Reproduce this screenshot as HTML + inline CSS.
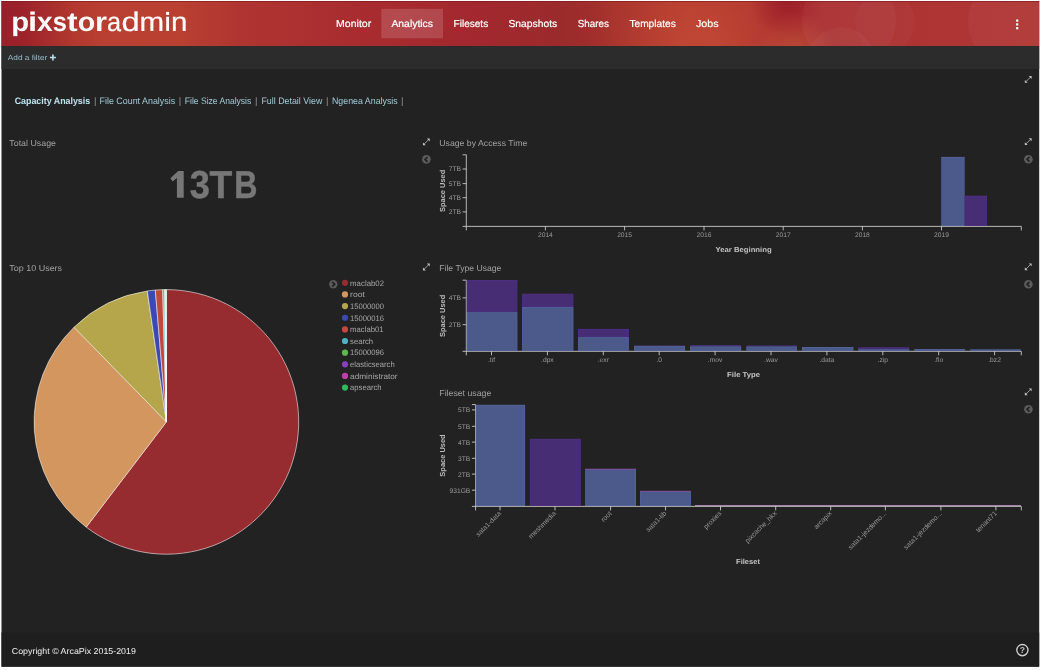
<!DOCTYPE html>
<html><head><meta charset="utf-8"><title>pixstor admin</title>
<style>
html,body{margin:0;padding:0;background:#fff;overflow:hidden;}
svg{display:block;font-family:"Liberation Sans", sans-serif;will-change:transform;opacity:0.999;text-rendering:geometricPrecision;}
</style></head><body>
<svg width="1041" height="670" viewBox="0 0 1041 670">
<defs>
<linearGradient id="hg" gradientUnits="userSpaceOnUse" x1="0" y1="0" x2="1041" y2="0">
<stop offset="0" stop-color="#98202a"/>
<stop offset="0.02" stop-color="#9b2229"/>
<stop offset="0.045" stop-color="#a62c2d"/>
<stop offset="0.075" stop-color="#b43a30"/>
<stop offset="0.10" stop-color="#b83e31"/>
<stop offset="0.17" stop-color="#b94031"/>
<stop offset="0.23" stop-color="#b03531"/>
<stop offset="0.33" stop-color="#a92d2f"/>
<stop offset="0.45" stop-color="#a3282f"/>
<stop offset="0.535" stop-color="#9b2a2c"/>
<stop offset="0.565" stop-color="#9f2d2c"/>
<stop offset="0.59" stop-color="#a9352e"/>
<stop offset="0.66" stop-color="#b83f31"/>
<stop offset="0.72" stop-color="#b43931"/>
<stop offset="0.765" stop-color="#aa2e30"/>
<stop offset="0.82" stop-color="#ac3133"/>
<stop offset="0.88" stop-color="#ae3434"/>
<stop offset="1" stop-color="#b03836"/>
</linearGradient>
<radialGradient id="g1" gradientUnits="userSpaceOnUse" cx="700" cy="52" r="85">
<stop offset="0" stop-color="#c44a35" stop-opacity="0.75"/>
<stop offset="1" stop-color="#c44a35" stop-opacity="0"/>
</radialGradient>
<radialGradient id="g2" gradientUnits="userSpaceOnUse" cx="787" cy="2" r="36">
<stop offset="0" stop-color="#9c1e28" stop-opacity="0.9"/>
<stop offset="1" stop-color="#9c1e28" stop-opacity="0"/>
</radialGradient>
<radialGradient id="g3" gradientUnits="userSpaceOnUse" cx="795" cy="54" r="42">
<stop offset="0" stop-color="#cc6a3c" stop-opacity="0.5"/>
<stop offset="1" stop-color="#c8603a" stop-opacity="0"/>
</radialGradient>
<clipPath id="hc"><rect x="1.5" y="1.1" width="1037.7" height="44.9"/></clipPath>
</defs>
<rect x="0" y="0" width="1041" height="670" fill="#ffffff"/>
<rect x="1.5" y="1.1" width="1037.7" height="665.6" fill="#222222"/>
<rect x="1.5" y="1.1" width="1037.7" height="44.9" fill="url(#hg)"/>
<g clip-path="url(#hc)">
<rect x="560" y="0" width="340" height="50" fill="url(#g1)"/>
<rect x="730" y="0" width="110" height="50" fill="url(#g2)"/>
<rect x="740" y="0" width="110" height="50" fill="url(#g3)"/>
<circle cx="140" cy="28" r="48" fill="#c8503a" opacity="0.10"/>
<circle cx="849" cy="20" r="47" fill="#ffffff" opacity="0.035"/>
<circle cx="841" cy="60" r="33" fill="#ffffff" opacity="0.035"/>
<circle cx="885" cy="22" r="30" fill="#ffffff" opacity="0.025"/>
<circle cx="1014" cy="22" r="46" fill="#ffffff" opacity="0.03"/>
</g>
<rect x="1.5" y="1.1" width="1037.7" height="0.8" fill="#851a1e" opacity="0.85"/>
<rect x="1.5" y="46.0" width="1037.7" height="23.0" fill="#2c2c2c"/>
<rect x="1.5" y="632.5" width="1037.7" height="34.200000000000045" fill="#1e1e1e"/>
<clipPath id="pc"><rect x="0" y="0" width="200" height="36.3"/></clipPath>
<g clip-path="url(#pc)"><text transform="translate(11.18,30.95) scale(1.0272,0.95)" font-size="28.4" fill="#ffffff" font-weight="bold">p</text></g>
<rect x="30.3" y="16.3" width="4.5" height="14.65" fill="#fff"/><rect x="30.3" y="11.5" width="4.5" height="3.2" fill="#fff"/>
<g><text transform="translate(36.91,30.95) scale(0.9875,0.95)" font-size="28.4" fill="#ffffff" font-weight="bold">x</text></g>
<g><text transform="translate(52.81,30.95) scale(0.8951,0.95)" font-size="28.4" fill="#ffffff" font-weight="bold">s</text></g>
<g><text transform="translate(66.91,30.95) scale(1.1182,0.95)" font-size="28.4" fill="#ffffff" font-weight="bold">t</text></g>
<g><text transform="translate(77.68,30.95) scale(1.0113,0.95)" font-size="28.4" fill="#ffffff" font-weight="bold">o</text></g>
<g><text transform="translate(94.97,30.95) scale(1.0857,0.95)" font-size="28.4" fill="#ffffff" font-weight="bold">r</text></g>
<text transform="translate(107.12,30.9) scale(0.8911,0.95)" font-size="28.4" fill="#ffffff" stroke="#ffffff" stroke-width="0.2">a</text>
<text transform="translate(121.53,30.9) scale(1.1510,0.95)" font-size="28.4" fill="#ffffff" stroke="#ffffff" stroke-width="0.2">d</text>
<text transform="translate(139.54,30.9) scale(1.0402,0.95)" font-size="28.4" fill="#ffffff" stroke="#ffffff" stroke-width="0.2">m</text>
<rect x="166.2" y="16.7" width="2.8" height="14.2" fill="#fff"/><rect x="166.1" y="11.9" width="3.0" height="3.0" fill="#fff"/>
<text transform="translate(171.09,30.9) scale(1.0403,0.95)" font-size="28.4" fill="#ffffff" stroke="#ffffff" stroke-width="0.2">n</text>
<rect x="381.3" y="8.9" width="61.7" height="29.4" fill="#ffffff" opacity="0.15"/>
<text x="336.1" y="27.4" font-size="10.1" fill="#ffffff" textLength="35.1" lengthAdjust="spacingAndGlyphs" stroke="#ffffff" stroke-width="0.2">Monitor</text>
<text x="391.4" y="27.4" font-size="10.1" fill="#ffffff" textLength="41.6" lengthAdjust="spacingAndGlyphs" stroke="#ffffff" stroke-width="0.2">Analytics</text>
<text x="453.5" y="27.4" font-size="10.1" fill="#ffffff" textLength="34.7" lengthAdjust="spacingAndGlyphs" stroke="#ffffff" stroke-width="0.2">Filesets</text>
<text x="508.4" y="27.4" font-size="10.1" fill="#ffffff" textLength="48.8" lengthAdjust="spacingAndGlyphs" stroke="#ffffff" stroke-width="0.2">Snapshots</text>
<text x="577.8" y="27.4" font-size="10.1" fill="#ffffff" textLength="31.0" lengthAdjust="spacingAndGlyphs" stroke="#ffffff" stroke-width="0.2">Shares</text>
<text x="629.4" y="27.4" font-size="10.1" fill="#ffffff" textLength="46.4" lengthAdjust="spacingAndGlyphs" stroke="#ffffff" stroke-width="0.2">Templates</text>
<text x="696.0" y="27.4" font-size="10.1" fill="#ffffff" textLength="22.6" lengthAdjust="spacingAndGlyphs" stroke="#ffffff" stroke-width="0.2">Jobs</text>
<rect x="1016.1" y="19.5" width="2.2" height="2.2" fill="#ffffff"/>
<rect x="1016.1" y="23.299999999999997" width="2.2" height="2.2" fill="#ffffff"/>
<rect x="1016.1" y="27.099999999999998" width="2.2" height="2.2" fill="#ffffff"/>
<text x="7.8" y="60.1" font-size="7.3" fill="#98bfcb" textLength="39.5" lengthAdjust="spacingAndGlyphs">Add a filter</text>
<path d="M49.9 57.5H55.9M52.9 54.5V60.5" stroke="#b9e2ef" stroke-width="1.6" fill="none"/>
<text x="14.7" y="104.0" font-size="9.4" fill="#bfe3ef" font-weight="bold" textLength="75.5" lengthAdjust="spacingAndGlyphs">Capacity Analysis</text>
<text x="99.6" y="104.0" font-size="9.4" fill="#a1cad7" textLength="75.5" lengthAdjust="spacingAndGlyphs">File Count Analysis</text>
<text x="184.8" y="104.0" font-size="9.4" fill="#a1cad7" textLength="66.5" lengthAdjust="spacingAndGlyphs">File Size Analysis</text>
<text x="261.4" y="104.0" font-size="9.4" fill="#a1cad7" textLength="60.9" lengthAdjust="spacingAndGlyphs">Full Detail View</text>
<text x="332.0" y="104.0" font-size="9.4" fill="#a1cad7" textLength="65.7" lengthAdjust="spacingAndGlyphs">Ngenea Analysis</text>
<text x="95.2" y="104.0" font-size="9.4" fill="#9a9a9a" text-anchor="middle">|</text>
<text x="180.0" y="104.0" font-size="9.4" fill="#9a9a9a" text-anchor="middle">|</text>
<text x="256.2" y="104.0" font-size="9.4" fill="#9a9a9a" text-anchor="middle">|</text>
<text x="327.2" y="104.0" font-size="9.4" fill="#9a9a9a" text-anchor="middle">|</text>
<text x="402.2" y="104.0" font-size="9.4" fill="#9a9a9a" text-anchor="middle">|</text>
<text x="11.8" y="653.7" font-size="8.6" fill="#f0f0f0" textLength="124.1" lengthAdjust="spacingAndGlyphs">Copyright © ArcaPix 2015-2019</text>
<text x="9.3" y="145.9" font-size="8.6" fill="#a0a0a0" textLength="46.7" lengthAdjust="spacingAndGlyphs">Total Usage</text>
<text x="9.3" y="271.0" font-size="8.6" fill="#a0a0a0" textLength="52.8" lengthAdjust="spacingAndGlyphs">Top 10 Users</text>
<text x="439.3" y="145.9" font-size="8.6" fill="#a0a0a0" textLength="88.0" lengthAdjust="spacingAndGlyphs">Usage by Access Time</text>
<text x="439.3" y="271.0" font-size="8.6" fill="#a0a0a0" textLength="62.0" lengthAdjust="spacingAndGlyphs">File Type Usage</text>
<text x="439.3" y="395.7" font-size="8.6" fill="#a0a0a0" textLength="52.0" lengthAdjust="spacingAndGlyphs">Fileset usage</text>
<path d="M176.9 197.8V177.9L172.6 181.4L170.4 178.3L178.2 171.0H183.7V197.8Z" fill="#777777"/>
<text transform="translate(189.77,197.8) scale(0.9285,1)" font-size="39.0" fill="#777777" stroke="#777777" stroke-width="0.5" font-weight="bold">3</text>
<text transform="translate(209.48,197.8) scale(0.9535,1)" font-size="39.0" fill="#777777" stroke="#777777" stroke-width="0.5" font-weight="bold">T</text>
<text transform="translate(234.25,197.8) scale(0.8240,1)" font-size="39.0" fill="#777777" stroke="#777777" stroke-width="0.5" font-weight="bold">B</text>
<g transform="translate(1028.2,79.4)" fill="#c2c2c2" stroke="none"><path d="M3.4 -3.4L0.5 -3.4L3.4 -0.5Z"/><path d="M-3.4 3.4L-0.5 3.4L-3.4 0.5Z"/><path d="M-2.4 2.4L2.4 -2.4" stroke="#c2c2c2" stroke-width="0.95" stroke-opacity="0.8"/></g>
<g transform="translate(1028.2,141.7)" fill="#c2c2c2" stroke="none"><path d="M3.4 -3.4L0.5 -3.4L3.4 -0.5Z"/><path d="M-3.4 3.4L-0.5 3.4L-3.4 0.5Z"/><path d="M-2.4 2.4L2.4 -2.4" stroke="#c2c2c2" stroke-width="0.95" stroke-opacity="0.8"/></g>
<g transform="translate(1028.2,266.8)" fill="#c2c2c2" stroke="none"><path d="M3.4 -3.4L0.5 -3.4L3.4 -0.5Z"/><path d="M-3.4 3.4L-0.5 3.4L-3.4 0.5Z"/><path d="M-2.4 2.4L2.4 -2.4" stroke="#c2c2c2" stroke-width="0.95" stroke-opacity="0.8"/></g>
<g transform="translate(1028.2,391.8)" fill="#c2c2c2" stroke="none"><path d="M3.4 -3.4L0.5 -3.4L3.4 -0.5Z"/><path d="M-3.4 3.4L-0.5 3.4L-3.4 0.5Z"/><path d="M-2.4 2.4L2.4 -2.4" stroke="#c2c2c2" stroke-width="0.95" stroke-opacity="0.8"/></g>
<g transform="translate(426.35,141.89999999999998)" fill="#c2c2c2" stroke="none"><path d="M3.4 -3.4L0.5 -3.4L3.4 -0.5Z"/><path d="M-3.4 3.4L-0.5 3.4L-3.4 0.5Z"/><path d="M-2.4 2.4L2.4 -2.4" stroke="#c2c2c2" stroke-width="0.95" stroke-opacity="0.8"/></g>
<g transform="translate(426.35,267.0)" fill="#c2c2c2" stroke="none"><path d="M3.4 -3.4L0.5 -3.4L3.4 -0.5Z"/><path d="M-3.4 3.4L-0.5 3.4L-3.4 0.5Z"/><path d="M-2.4 2.4L2.4 -2.4" stroke="#c2c2c2" stroke-width="0.95" stroke-opacity="0.8"/></g>
<circle cx="426.4" cy="159.4" r="4.3" fill="#5c5c5c"/>
<path d="M427.5 157.0L425.0 159.4L427.5 161.8" stroke="#222222" stroke-width="1.65" fill="none"/>
<circle cx="1028.4" cy="159.3" r="4.3" fill="#5c5c5c"/>
<path d="M1029.5 156.9L1027.0 159.3L1029.5 161.70000000000002" stroke="#222222" stroke-width="1.65" fill="none"/>
<circle cx="1028.4" cy="284.3" r="4.3" fill="#5c5c5c"/>
<path d="M1029.5 281.90000000000003L1027.0 284.3L1029.5 286.7" stroke="#222222" stroke-width="1.65" fill="none"/>
<circle cx="1028.4" cy="409.3" r="4.3" fill="#5c5c5c"/>
<path d="M1029.5 406.90000000000003L1027.0 409.3L1029.5 411.7" stroke="#222222" stroke-width="1.65" fill="none"/>
<circle cx="333.3" cy="284.2" r="4.15" fill="#5c5c5c"/>
<path d="M332.2 281.8L334.7 284.2L332.2 286.59999999999997" stroke="#222222" stroke-width="1.65" fill="none"/>
<circle cx="1022.4" cy="650.1" r="5.6" fill="none" stroke="#d2d2d2" stroke-width="1.35"/>
<text x="1022.4" y="653.3" font-size="8.6" fill="#c0c0c0" text-anchor="middle" font-weight="bold">?</text>
<path d="M462.6 154.8H466.3V226.4H462.6" stroke="#dddddd" stroke-width="0.8" fill="none"/>
<path d="M466.3 230.4V226.4H1021.3V230.4" stroke="#dddddd" stroke-width="0.8" fill="none"/>
<path d="M462.6 169.0H466.3" stroke="#dddddd" stroke-width="0.8"/>
<text x="461.0" y="171.4" font-size="6.7" fill="#9a9a9a" text-anchor="end">7TB</text>
<path d="M462.6 183.6H466.3" stroke="#dddddd" stroke-width="0.8"/>
<text x="461.0" y="186.0" font-size="6.7" fill="#9a9a9a" text-anchor="end">5TB</text>
<path d="M462.6 197.7H466.3" stroke="#dddddd" stroke-width="0.8"/>
<text x="461.0" y="200.1" font-size="6.7" fill="#9a9a9a" text-anchor="end">4TB</text>
<path d="M462.6 211.9H466.3" stroke="#dddddd" stroke-width="0.8"/>
<text x="461.0" y="214.3" font-size="6.7" fill="#9a9a9a" text-anchor="end">2TB</text>
<path d="M545.4 226.4V230.4" stroke="#dddddd" stroke-width="0.8"/>
<path d="M624.6 226.4V230.4" stroke="#dddddd" stroke-width="0.8"/>
<path d="M704.0 226.4V230.4" stroke="#dddddd" stroke-width="0.8"/>
<path d="M783.2 226.4V230.4" stroke="#dddddd" stroke-width="0.8"/>
<path d="M862.4 226.4V230.4" stroke="#dddddd" stroke-width="0.8"/>
<path d="M941.5 226.4V230.4" stroke="#dddddd" stroke-width="0.8"/>
<text x="545.4" y="237.4" font-size="6.7" fill="#9a9a9a" text-anchor="middle">2014</text>
<text x="624.6" y="237.4" font-size="6.7" fill="#9a9a9a" text-anchor="middle">2015</text>
<text x="704.0" y="237.4" font-size="6.7" fill="#9a9a9a" text-anchor="middle">2016</text>
<text x="783.2" y="237.4" font-size="6.7" fill="#9a9a9a" text-anchor="middle">2017</text>
<text x="862.4" y="237.4" font-size="6.7" fill="#9a9a9a" text-anchor="middle">2018</text>
<text x="941.5" y="237.4" font-size="6.7" fill="#9a9a9a" text-anchor="middle">2019</text>
<rect x="941.3" y="156.9" width="23.3" height="69.1" fill="#5669a6"/>
<rect x="941.8499999999999" y="157.45000000000002" width="22.2" height="68.0" fill="#4c5a8b"/>
<rect x="964.6" y="195.7" width="22.4" height="30.3" fill="#50318c"/>
<rect x="965.15" y="196.25" width="21.3" height="29.2" fill="#472d74"/>
<text transform="translate(445.4,190.9) rotate(-90)" text-anchor="middle" font-size="7.3" font-weight="bold" fill="#bcbcbc" textLength="42.3" lengthAdjust="spacingAndGlyphs">Space Used</text>
<text x="743.6" y="251.6" font-size="7.3" fill="#c4c4c4" text-anchor="middle" font-weight="bold" textLength="56.0" lengthAdjust="spacingAndGlyphs">Year Beginning</text>
<path d="M462.6 280.2H466.3V351.3H462.6" stroke="#dddddd" stroke-width="0.8" fill="none"/>
<path d="M466.3 355.3V351.3H1021.3V355.3" stroke="#dddddd" stroke-width="0.8" fill="none"/>
<path d="M462.6 297.9H466.3" stroke="#dddddd" stroke-width="0.8"/>
<text x="461.0" y="300.3" font-size="6.7" fill="#9a9a9a" text-anchor="end">4TB</text>
<path d="M462.6 324.7H466.3" stroke="#dddddd" stroke-width="0.8"/>
<text x="461.0" y="327.1" font-size="6.7" fill="#9a9a9a" text-anchor="end">2TB</text>
<path d="M491.5 351.3V355.3" stroke="#dddddd" stroke-width="0.8"/>
<path d="M547.4 351.3V355.3" stroke="#dddddd" stroke-width="0.8"/>
<path d="M603.3 351.3V355.3" stroke="#dddddd" stroke-width="0.8"/>
<path d="M659.2 351.3V355.3" stroke="#dddddd" stroke-width="0.8"/>
<path d="M715.1 351.3V355.3" stroke="#dddddd" stroke-width="0.8"/>
<path d="M771.0 351.3V355.3" stroke="#dddddd" stroke-width="0.8"/>
<path d="M826.9 351.3V355.3" stroke="#dddddd" stroke-width="0.8"/>
<path d="M882.8 351.3V355.3" stroke="#dddddd" stroke-width="0.8"/>
<path d="M938.7 351.3V355.3" stroke="#dddddd" stroke-width="0.8"/>
<path d="M994.5999999999999 351.3V355.3" stroke="#dddddd" stroke-width="0.8"/>
<text x="491.5" y="362.3" font-size="6.7" fill="#9a9a9a" text-anchor="middle">.tif</text>
<text x="547.4" y="362.3" font-size="6.7" fill="#9a9a9a" text-anchor="middle">.dpx</text>
<text x="603.3" y="362.3" font-size="6.7" fill="#9a9a9a" text-anchor="middle">.exr</text>
<text x="659.2" y="362.3" font-size="6.7" fill="#9a9a9a" text-anchor="middle">.0</text>
<text x="715.1" y="362.3" font-size="6.7" fill="#9a9a9a" text-anchor="middle">.mov</text>
<text x="771.0" y="362.3" font-size="6.7" fill="#9a9a9a" text-anchor="middle">.wav</text>
<text x="826.9" y="362.3" font-size="6.7" fill="#9a9a9a" text-anchor="middle">.data</text>
<text x="882.8" y="362.3" font-size="6.7" fill="#9a9a9a" text-anchor="middle">.zip</text>
<text x="938.7" y="362.3" font-size="6.7" fill="#9a9a9a" text-anchor="middle">.flo</text>
<text x="994.6" y="362.3" font-size="6.7" fill="#9a9a9a" text-anchor="middle">.bz2</text>
<rect x="466.8" y="280.0" width="50.6" height="32.2" fill="#50318c"/>
<rect x="467.35" y="280.55" width="49.5" height="31.1" fill="#472d74"/>
<rect x="466.8" y="312.2" width="50.6" height="38.7" fill="#5669a6"/>
<rect x="467.35" y="312.75" width="49.5" height="37.6" fill="#4c5a8b"/>
<rect x="522.1" y="293.7" width="51.3" height="13.4" fill="#50318c"/>
<rect x="522.65" y="294.25" width="50.2" height="12.3" fill="#472d74"/>
<rect x="522.1" y="307.1" width="51.3" height="43.8" fill="#5669a6"/>
<rect x="522.65" y="307.65000000000003" width="50.2" height="42.7" fill="#4c5a8b"/>
<rect x="578.1" y="328.9" width="50.7" height="8.3" fill="#50318c"/>
<rect x="578.65" y="329.45" width="49.6" height="7.2" fill="#472d74"/>
<rect x="578.1" y="337.2" width="50.7" height="13.7" fill="#5669a6"/>
<rect x="578.65" y="337.75" width="49.6" height="12.6" fill="#4c5a8b"/>
<rect x="634.1" y="345.6" width="50.9" height="0.3" fill="#50318c"/>
<rect x="634.1" y="345.9" width="50.9" height="5.0" fill="#5669a6"/>
<rect x="634.65" y="346.45" width="49.8" height="3.9" fill="#4c5a8b"/>
<rect x="690.1" y="345.2" width="51.1" height="1.2" fill="#50318c"/>
<rect x="690.1" y="346.4" width="51.1" height="4.5" fill="#5669a6"/>
<rect x="690.65" y="346.95" width="50.0" height="3.4" fill="#4c5a8b"/>
<rect x="746.4" y="345.5" width="50.5" height="1.0" fill="#50318c"/>
<rect x="746.4" y="346.5" width="50.5" height="4.4" fill="#5669a6"/>
<rect x="746.9499999999999" y="347.05" width="49.4" height="3.3" fill="#4c5a8b"/>
<rect x="802.0" y="347.0" width="51.4" height="3.9" fill="#5669a6"/>
<rect x="802.55" y="347.55" width="50.3" height="2.8" fill="#4c5a8b"/>
<rect x="858.2" y="347.3" width="51.1" height="2.0" fill="#50318c"/>
<rect x="858.75" y="347.85" width="50.0" height="0.9" fill="#472d74"/>
<rect x="858.2" y="349.3" width="51.1" height="1.6" fill="#5669a6"/>
<rect x="858.75" y="349.85" width="50.0" height="0.5" fill="#4c5a8b"/>
<rect x="914.3" y="349.1" width="50.8" height="1.8" fill="#5669a6"/>
<rect x="914.8499999999999" y="349.65000000000003" width="49.7" height="0.7" fill="#4c5a8b"/>
<rect x="970.2" y="349.4" width="50.5" height="1.5" fill="#5669a6"/>
<rect x="970.75" y="349.95" width="49.4" height="0.4" fill="#4c5a8b"/>
<text transform="translate(445.4,315.9) rotate(-90)" text-anchor="middle" font-size="7.3" font-weight="bold" fill="#bcbcbc" textLength="42.3" lengthAdjust="spacingAndGlyphs">Space Used</text>
<text x="743.6" y="376.6" font-size="7.3" fill="#c4c4c4" text-anchor="middle" font-weight="bold" textLength="33.0" lengthAdjust="spacingAndGlyphs">File Type</text>
<path d="M471.90000000000003 404.6H475.6V506.4H471.90000000000003" stroke="#dddddd" stroke-width="0.8" fill="none"/>
<path d="M475.6 510.4V506.4H1021.3V510.4" stroke="#dddddd" stroke-width="0.8" fill="none"/>
<path d="M471.90000000000003 409.9H475.6" stroke="#dddddd" stroke-width="0.8"/>
<text x="470.3" y="412.3" font-size="6.7" fill="#9a9a9a" text-anchor="end">5TB</text>
<path d="M471.90000000000003 426.3H475.6" stroke="#dddddd" stroke-width="0.8"/>
<text x="470.3" y="428.7" font-size="6.7" fill="#9a9a9a" text-anchor="end">5TB</text>
<path d="M471.90000000000003 442.1H475.6" stroke="#dddddd" stroke-width="0.8"/>
<text x="470.3" y="444.5" font-size="6.7" fill="#9a9a9a" text-anchor="end">4TB</text>
<path d="M471.90000000000003 458.3H475.6" stroke="#dddddd" stroke-width="0.8"/>
<text x="470.3" y="460.7" font-size="6.7" fill="#9a9a9a" text-anchor="end">3TB</text>
<path d="M471.90000000000003 474.1H475.6" stroke="#dddddd" stroke-width="0.8"/>
<text x="470.3" y="476.5" font-size="6.7" fill="#9a9a9a" text-anchor="end">2TB</text>
<path d="M471.90000000000003 490.2H475.6" stroke="#dddddd" stroke-width="0.8"/>
<text x="470.3" y="492.6" font-size="6.7" fill="#9a9a9a" text-anchor="end">931GB</text>
<path d="M500.0 506.4V510.4" stroke="#dddddd" stroke-width="0.8"/>
<path d="M555.0 506.4V510.4" stroke="#dddddd" stroke-width="0.8"/>
<path d="M610.6 506.4V510.4" stroke="#dddddd" stroke-width="0.8"/>
<path d="M665.5 506.4V510.4" stroke="#dddddd" stroke-width="0.8"/>
<path d="M720.5 506.4V510.4" stroke="#dddddd" stroke-width="0.8"/>
<path d="M775.7 506.4V510.4" stroke="#dddddd" stroke-width="0.8"/>
<path d="M830.7 506.4V510.4" stroke="#dddddd" stroke-width="0.8"/>
<path d="M885.4 506.4V510.4" stroke="#dddddd" stroke-width="0.8"/>
<path d="M940.9 506.4V510.4" stroke="#dddddd" stroke-width="0.8"/>
<path d="M995.9 506.4V510.4" stroke="#dddddd" stroke-width="0.8"/>
<rect x="475.8" y="404.8" width="49.3" height="101.2" fill="#5669a6"/>
<rect x="476.35" y="405.35" width="48.2" height="100.1" fill="#4c5a8b"/>
<rect x="529.9" y="438.8" width="50.8" height="67.2" fill="#50318c"/>
<rect x="530.4499999999999" y="439.35" width="49.7" height="66.1" fill="#472d74"/>
<rect x="585.2" y="469.0" width="50.8" height="37.0" fill="#5669a6"/>
<rect x="585.75" y="469.55" width="49.7" height="35.9" fill="#4c5a8b"/>
<rect x="640.1" y="491.1" width="50.8" height="14.9" fill="#5669a6"/>
<rect x="640.65" y="491.65000000000003" width="49.7" height="13.8" fill="#4c5a8b"/>
<rect x="585.2" y="468.7" width="50.8" height="0.8" fill="#8a4aa0"/>
<rect x="640.1" y="490.8" width="50.8" height="0.8" fill="#8a4aa0"/>
<rect x="695.0" y="505.2" width="326" height="0.8" fill="#c39ac8"/>
<text transform="translate(501.5,513.9) rotate(-45)" text-anchor="end" font-size="6.9" fill="#9a9a9a">sata1-data</text>
<text transform="translate(556.5,513.9) rotate(-45)" text-anchor="end" font-size="6.9" fill="#9a9a9a">meshmedia</text>
<text transform="translate(612.1,513.9) rotate(-45)" text-anchor="end" font-size="6.9" fill="#9a9a9a">root</text>
<text transform="translate(667.0,513.9) rotate(-45)" text-anchor="end" font-size="6.9" fill="#9a9a9a">sata1-lib</text>
<text transform="translate(722.0,513.9) rotate(-45)" text-anchor="end" font-size="6.9" fill="#9a9a9a">proxies</text>
<text transform="translate(777.2,513.9) rotate(-45)" text-anchor="end" font-size="6.9" fill="#9a9a9a">pixcache_hkx</text>
<text transform="translate(832.2,513.9) rotate(-45)" text-anchor="end" font-size="6.9" fill="#9a9a9a">arcapix</text>
<text transform="translate(886.9,513.9) rotate(-45)" text-anchor="end" font-size="6.9" fill="#9a9a9a">sata1-jezdemo...</text>
<text transform="translate(942.4,513.9) rotate(-45)" text-anchor="end" font-size="6.9" fill="#9a9a9a">sata1-jezdemo...</text>
<text transform="translate(997.4,513.9) rotate(-45)" text-anchor="end" font-size="6.9" fill="#9a9a9a">tenant71</text>
<text transform="translate(445.4,455.5) rotate(-90)" text-anchor="middle" font-size="7.3" font-weight="bold" fill="#bcbcbc" textLength="42.3" lengthAdjust="spacingAndGlyphs">Space Used</text>
<text x="748.0" y="563.9" font-size="7.3" fill="#c4c4c4" text-anchor="middle" font-weight="bold" textLength="24.0" lengthAdjust="spacingAndGlyphs">Fileset</text>
<path d="M166.4 421.9L166.40 289.60A132.3 132.3 0 1 1 86.23 527.14Z" fill="#962b30" stroke="#ffffff" stroke-opacity="0.78" stroke-width="0.72" stroke-linejoin="round"/>
<path d="M166.4 421.9L86.23 527.14A132.3 132.3 0 0 1 74.00 327.21Z" fill="#d4965f" stroke="#ffffff" stroke-opacity="0.78" stroke-width="0.72" stroke-linejoin="round"/>
<path d="M166.4 421.9L74.00 327.21A132.3 132.3 0 0 1 147.30 290.99Z" fill="#b5a64b" stroke="#ffffff" stroke-opacity="0.78" stroke-width="0.72" stroke-linejoin="round"/>
<path d="M166.4 421.9L147.30 290.99A132.3 132.3 0 0 1 155.33 290.06Z" fill="#3b49b3" stroke="#ffffff" stroke-opacity="0.78" stroke-width="0.72" stroke-linejoin="round"/>
<path d="M166.4 421.9L155.33 290.06A132.3 132.3 0 0 1 162.71 289.65Z" fill="#c1483d" stroke="#ffffff" stroke-opacity="0.78" stroke-width="0.72" stroke-linejoin="round"/>
<path d="M166.4 421.9L162.71 289.65A132.3 132.3 0 0 1 164.55 289.61Z" fill="#4cb3c4" stroke="#ffffff" stroke-opacity="0.78" stroke-width="0.72" stroke-linejoin="round"/>
<path d="M166.4 421.9L164.55 289.61A132.3 132.3 0 0 1 165.25 289.61Z" fill="#5cba4c" stroke="#ffffff" stroke-opacity="0.78" stroke-width="0.72" stroke-linejoin="round"/>
<path d="M166.4 421.9L165.25 289.61A132.3 132.3 0 0 1 165.71 289.60Z" fill="#8a3fc0" stroke="#ffffff" stroke-opacity="0.78" stroke-width="0.72" stroke-linejoin="round"/>
<path d="M166.4 421.9L165.71 289.60A132.3 132.3 0 0 1 166.05 289.60Z" fill="#c43dac" stroke="#ffffff" stroke-opacity="0.78" stroke-width="0.72" stroke-linejoin="round"/>
<path d="M166.4 421.9L166.05 289.60A132.3 132.3 0 0 1 166.40 289.60Z" fill="#2fb85c" stroke="#ffffff" stroke-opacity="0.78" stroke-width="0.72" stroke-linejoin="round"/>
<circle cx="345.0" cy="282.80" r="3.1" fill="#962b30"/>
<text x="350.1" y="285.6" font-size="7.9" fill="#a6a6a6" textLength="34.0" lengthAdjust="spacingAndGlyphs">maclab02</text>
<circle cx="345.0" cy="294.44" r="3.1" fill="#d4965f"/>
<text x="350.1" y="297.25" font-size="7.9" fill="#a6a6a6" textLength="14.8" lengthAdjust="spacingAndGlyphs">root</text>
<circle cx="345.0" cy="306.09" r="3.1" fill="#b5a64b"/>
<text x="350.1" y="308.89" font-size="7.9" fill="#a6a6a6" textLength="34.0" lengthAdjust="spacingAndGlyphs">15000000</text>
<circle cx="345.0" cy="317.74" r="3.1" fill="#3b49b3"/>
<text x="350.1" y="320.54" font-size="7.9" fill="#a6a6a6" textLength="34.0" lengthAdjust="spacingAndGlyphs">15000016</text>
<circle cx="345.0" cy="329.38" r="3.1" fill="#c1483d"/>
<text x="350.1" y="332.18" font-size="7.9" fill="#a6a6a6" textLength="33.5" lengthAdjust="spacingAndGlyphs">maclab01</text>
<circle cx="345.0" cy="341.02" r="3.1" fill="#4cb3c4"/>
<text x="350.1" y="343.82" font-size="7.9" fill="#a6a6a6" textLength="23.0" lengthAdjust="spacingAndGlyphs">search</text>
<circle cx="345.0" cy="352.67" r="3.1" fill="#5cba4c"/>
<text x="350.1" y="355.47" font-size="7.9" fill="#a6a6a6" textLength="34.0" lengthAdjust="spacingAndGlyphs">15000096</text>
<circle cx="345.0" cy="364.31" r="3.1" fill="#8a3fc0"/>
<text x="350.1" y="367.12" font-size="7.9" fill="#a6a6a6" textLength="44.6" lengthAdjust="spacingAndGlyphs">elasticsearch</text>
<circle cx="345.0" cy="375.96" r="3.1" fill="#c43dac"/>
<text x="350.1" y="378.76" font-size="7.9" fill="#a6a6a6" textLength="47.5" lengthAdjust="spacingAndGlyphs">administrator</text>
<circle cx="345.0" cy="387.61" r="3.1" fill="#2fb85c"/>
<text x="350.1" y="390.41" font-size="7.9" fill="#a6a6a6" textLength="31.5" lengthAdjust="spacingAndGlyphs">apsearch</text>
</svg>
</body></html>
